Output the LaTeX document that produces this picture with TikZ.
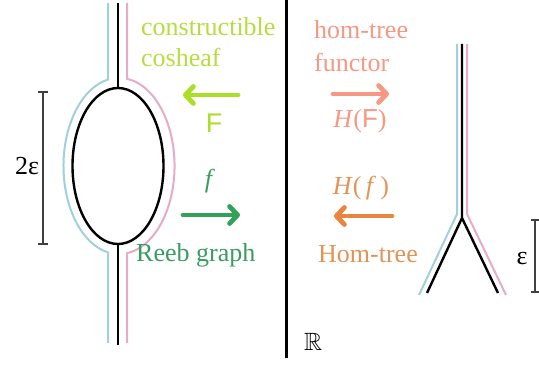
\documentclass[tikz,border=0pt]{standalone}
\usepackage{fontspec}
\usepackage{amssymb}
\setmainfont{Liberation Serif}
\setsansfont{Liberation Sans}
\usetikzlibrary{arrows.meta,shapes.geometric,calc}
\definecolor{lime}{RGB}{170,222,40}
\definecolor{limetext}{RGB}{180,222,64}
\definecolor{grn}{RGB}{50,162,88}
\definecolor{grntext}{RGB}{58,156,96}
\definecolor{salmon}{RGB}{246,152,132}
\definecolor{orng}{RGB}{234,132,62}
\definecolor{orngtext}{RGB}{226,148,88}
\definecolor{lblue}{RGB}{160,208,222}
\definecolor{lpink}{RGB}{230,172,198}
\tikzset{
  x=1pt, y=1pt,
  txt/.style={inner sep=0pt, font=\fontsize{26}{28}\selectfont},
  blk/.style={line width=2.4pt, black},
  bluel/.style={line width=2pt, lblue},
  pinkl/.style={line width=2pt, lpink},
  bigarrow/.style={line width=4.8pt, line cap=round, -{Straight Barb[length=8pt,width=17pt,round]}},
  bar/.style={line width=1.3pt, black!75},
}
\begin{document}
\begin{tikzpicture}
\useasboundingbox (0,0) rectangle (539,-366);
% left figure: Reeb graph with loop
\node[ellipse, draw, line width=2.4pt, minimum width=91pt, minimum height=156pt, inner sep=0pt, outer sep=0pt] (loop) at (118,-166) {};
\coordinate (ltop) at (118,-3);
\coordinate (lbot) at (118,-345);
\draw[blk] (ltop) -- (loop.north);
\draw[blk] (loop.south) -- (lbot);
\draw[bluel] (108,-3) -- (108,-79.6) arc[start angle=101, end angle=259, x radius=55, y radius=88] -- (108,-343);
\draw[pinkl] (127,-3) -- (127,-78.8) arc[start angle=82.2, end angle=-82.2, x radius=55, y radius=88] -- (127,-343);
% 2 epsilon bar
\coordinate (b1) at (43,-92);
\coordinate (b2) at (43,-244);
\draw[bar] (b1) -- (b2);
\draw[bar] ($(b1)+(-5,0)$) -- ($(b1)+(5,0)$);
\draw[bar] ($(b2)+(-5,0)$) -- ($(b2)+(5,0)$);
\node[txt, anchor=base] (twoeps) at (27,-175) {2ε};
% left labels
\node[txt, anchor=base west, text=limetext] (cons) at (141,-36) {constructible};
\node[txt, anchor=base west, text=limetext] (cosh) at (141,-67) {cosheaf};
\coordinate (fa1) at (238,-95);
\coordinate (fa2) at (183,-95);
\draw[bigarrow, lime] (fa1) -- (fa2);
\node[inner sep=0pt, anchor=base, text=lime, font=\sffamily\fontsize{27}{29}\selectfont] (Flab) at (214,-133) {F};
\node[txt, anchor=base, text=grntext] (flab) at (210,-188) {\textit{f}};
\coordinate (ga1) at (183,-215);
\coordinate (ga2) at (240,-215);
\draw[bigarrow, grn] (ga1) -- (ga2);
\node[txt, anchor=base west, text=grntext] (reeb) at (136,-262) {Reeb graph};
% middle axis
\coordinate (m1) at (286,0);
\coordinate (m2) at (286,-358);
\draw[line width=3pt] (m1) -- (m2);
\node[inner sep=0pt, anchor=base west, font=\fontsize{25}{27}\selectfont] (R) at (304,-351) {$\mathbb{R}$};
% right labels
\node[txt, anchor=base west, text=salmon] (homt) at (314,-39) {hom-tree};
\node[txt, anchor=base west, text=salmon] (func) at (314,-72) {functor};
\coordinate (sa1) at (333,-94);
\coordinate (sa2) at (389,-94);
\draw[bigarrow, salmon] (sa1) -- (sa2);
\node[txt, anchor=base, text=salmon] (HF) at (360,-128) {\textit{H}(\textsf{F})};
\node[txt, anchor=base, text=orngtext] (Hf) at (361,-195) {\textit{H}(\,\textit{f}\,)};
\coordinate (oa1) at (392,-216);
\coordinate (oa2) at (334,-216);
\draw[bigarrow, orng] (oa1) -- (oa2);
\node[txt, anchor=base west, text=orngtext] (Homt) at (318,-263) {Hom-tree};
% tree
\coordinate (t0) at (462,-44);
\coordinate (tj) at (462,-218);
\coordinate (tl) at (427,-293);
\coordinate (tr) at (498,-293);
\draw[blk, line join=miter] (t0) -- (tj) -- (tl);
\draw[blk] (tj) -- (tr);
\draw[bluel] (457,-44) -- (457,-214) -- (419,-295);
\draw[pinkl] (467,-44) -- (467,-214) -- (506,-295);
% epsilon bar
\coordinate (e1) at (535,-220);
\coordinate (e2) at (535,-292);
\draw[bar] (e1) -- (e2);
\draw[bar] ($(e1)+(-4,0)$) -- ($(e1)+(4,0)$);
\draw[bar] ($(e2)+(-4,0)$) -- ($(e2)+(4,0)$);
\node[txt, anchor=base] (eps) at (522,-265) {ε};
\end{tikzpicture}
\end{document}
